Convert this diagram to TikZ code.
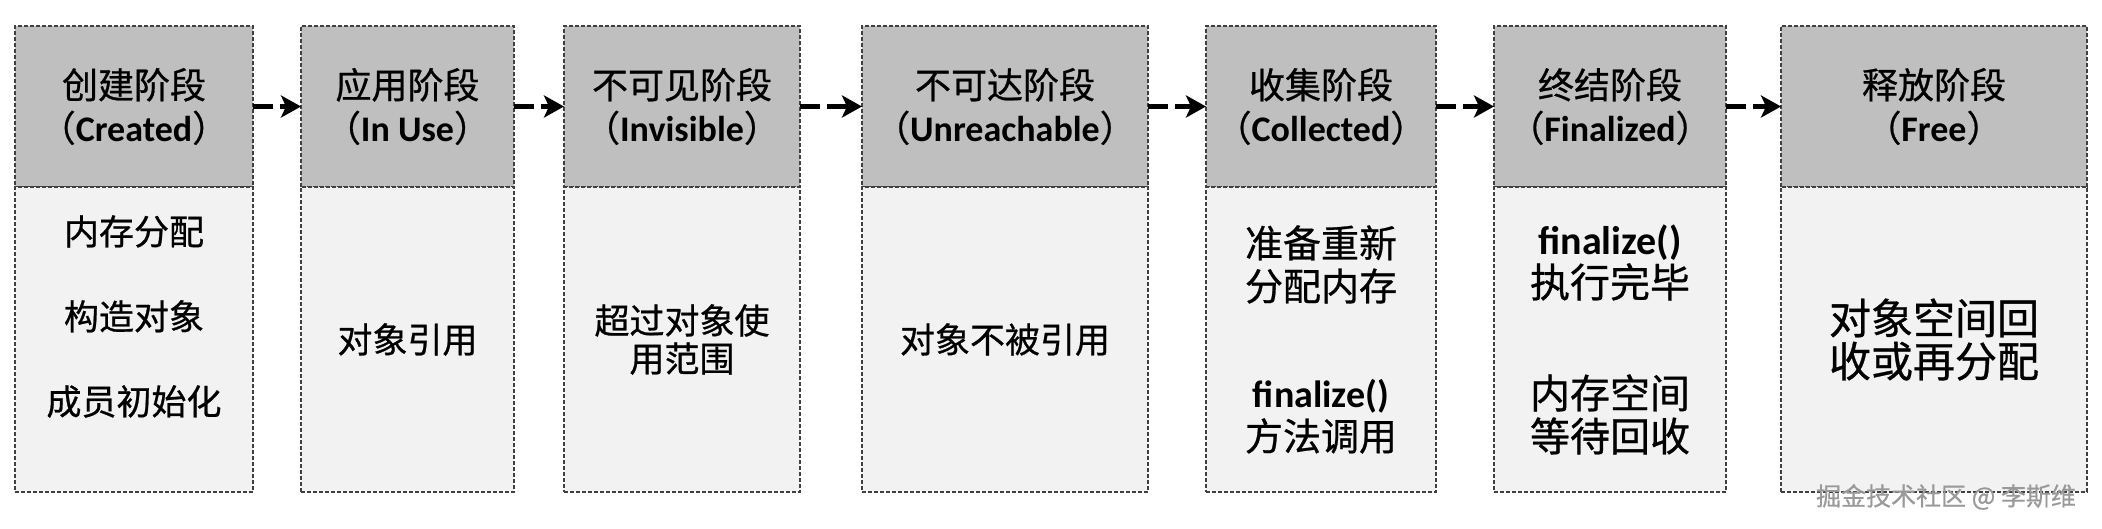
\documentclass[tikz,border=0pt]{standalone}
\usepackage{fontspec}
\setmainfont{Noto Sans CJK SC}[FakeBold=0.7]
\newfontfamily\latn{Carlito}
\usetikzlibrary{arrows.meta,positioning}
\newcommand{\en}[1]{{\latn\bfseries #1}}

\begin{document}
\begin{tikzpicture}[
  x=0.5pt, y=-0.5pt,
  box/.style={draw=black!75, dash pattern=on 2pt off 1pt, line width=1pt, outer sep=0pt, inner sep=0pt, align=center},
  hd/.style={box, fill=black!25, minimum height=80.5pt, font=\fontsize{18pt}{21.5pt}\selectfont},
  bd/.style={box, fill=black!5, minimum height=152.5pt, font=\fontsize{17.5pt}{19pt}\selectfont},
  big/.style={font=\fontsize{#1}{21.5pt}\selectfont},
  flow/.style={line width=2.5pt, dash pattern=on 10pt off 3.5pt, -{Stealth[length=10pt, width=11pt, inset=2.5pt]}},
]
\useasboundingbox (0,0) rectangle (2102,529);

% stage headers
\node[hd, minimum width=119pt, anchor=north west] (h1) at (15,26) {创建阶段\\（\en{Created}）};
\node[hd, minimum width=106.5pt, right=24pt of h1] (h2) {应用阶段\\（\en{In Use}）};
\node[hd, minimum width=118pt, right=25pt of h2] (h3) {不可见阶段\\（\en{Invisible}）};
\node[hd, minimum width=143pt, right=31pt of h3] (h4) {不可达阶段\\（\en{Unreachable}）};
\node[hd, minimum width=115pt, right=29pt of h4] (h5) {收集阶段\\（\en{Collected}）};
\node[hd, minimum width=116pt, right=29pt of h5] (h6) {终结阶段\\（\en{Finalized}）};
\node[hd, minimum width=153pt, right=27.5pt of h6] (h7) {释放阶段\\（\en{Free}）};

% stage bodies
\node[bd, minimum width=119pt, below=0pt of h1] (b1) {};
\node[font=\fontsize{17.5pt}{42.5pt}\selectfont, align=center] (t1) at ([yshift=11.5pt]b1.center) {内存分配\\构造对象\\成员初始化};
\node[bd, minimum width=106.5pt, below=0pt of h2] (b2) {对象引用};
\node[bd, minimum width=118pt, below=0pt of h3] (b3) {超过对象使\\用范围};
\node[bd, minimum width=143pt, below=0pt of h4] (b4) {对象不被引用};
\node[bd, big=19pt, minimum width=115pt, below=0pt of h5] (b5) {准备重新\\分配内存\\[32pt]\en{finalize()}\\方法调用};
\node[bd, big=20pt, minimum width=116pt, below=0pt of h6] (b6) {\en{finalize()}\\执行完毕\\[34pt]内存空间\\等待回收};
\node[bd, big=21pt, minimum width=153pt, below=0pt of h7] (b7) {对象空间回\\收或再分配};

\foreach \a/\b in {h1/h2,h2/h3,h3/h4,h4/h5,h5/h6,h6/h7} { \draw[flow] (\a) -- (\b); }

\node[anchor=east, text=black!40, font=\fontsize{12.5pt}{12.5pt}\selectfont] (wm) at (2083,497) {掘金技术社区 @ 李斯维};
\end{tikzpicture}
\end{document}
